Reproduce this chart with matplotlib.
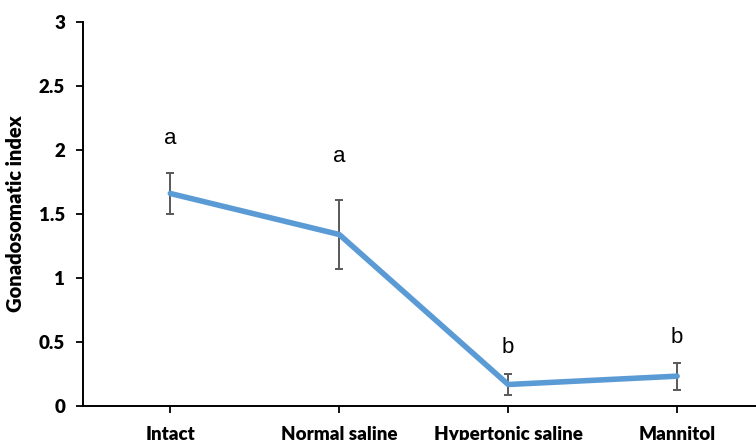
import matplotlib
matplotlib.use("Agg")
import matplotlib.pyplot as plt

categories = ["Intact", "Normal saline", "Hypertonic saline", "Mannitol"]
gsi_mean = [1.66, 1.34, 0.17, 0.235]
gsi_err = [0.16, 0.27, 0.085, 0.105]
sig_letters = ["a", "a", "b", "b"]
letter_y = [2.09, 1.95, 0.455, 0.54]
y_ticks = [0, 0.5, 1, 1.5, 2, 2.5, 3]
y_tick_labels = ["0", "0.5", "1", "1.5", "2", "2.5", "3"]

plt.rcParams['font.family'] = ['Lato', 'DejaVu Sans']

fig = plt.figure(figsize=(7.56, 4.4), dpi=100)
ax = fig.add_axes([83.3 / 756, 0.0766, 1 - 83.3 / 756, 0.8741])

x = list(range(len(categories)))
ax.errorbar(x, gsi_mean, yerr=gsi_err, fmt='none', ecolor='#595959',
            elinewidth=1.4, capsize=3.0, capthick=1.4, zorder=2)
ax.plot(x, gsi_mean, color='#5B9BD5', linewidth=4.0, solid_capstyle='round',
        solid_joinstyle='round', zorder=3)

for xi, lab, ly in zip(x, sig_letters, letter_y):
    ax.text(xi, ly, lab, ha='center', va='center', fontsize=16, color='black',
            family=['Liberation Sans', 'DejaVu Sans'])

ax.set_xlim(-0.515, 3.467)
ax.set_ylim(0, 3)
ax.set_yticks(y_ticks)
ax.set_yticklabels(y_tick_labels, fontsize=13.5, fontweight='heavy')
ax.set_xticks(x)
ax.set_xticklabels(categories, fontsize=13.5, fontweight='heavy')
ax.tick_params(axis='both', direction='out', length=5, width=1.3, color='black')
ax.tick_params(axis='y', pad=8)
ax.tick_params(axis='x', pad=9)
ax.set_ylabel("Gonadosomatic index", fontsize=14.5, fontweight='heavy', labelpad=10)

for side in ['top', 'right']:
    ax.spines[side].set_visible(False)
for side in ['left', 'bottom']:
    ax.spines[side].set_linewidth(1.4)
    ax.spines[side].set_color('black')

fig.savefig("out.png", dpi=100)
